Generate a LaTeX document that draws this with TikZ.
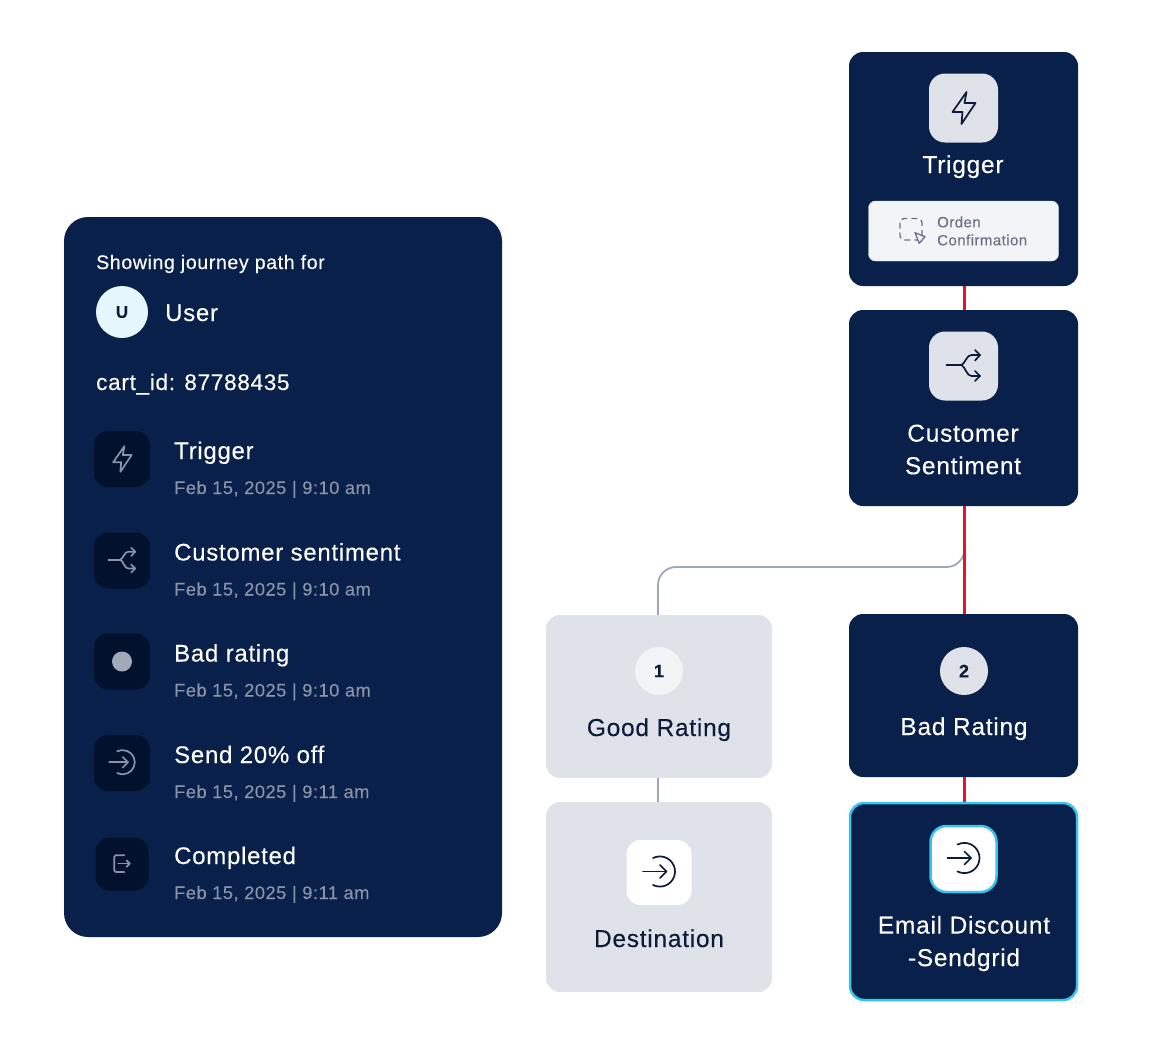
\documentclass[tikz,border=0pt]{standalone}
\usepackage{tikz,fontspec}
\setmainfont[LetterSpace=3,FakeBold=0.2]{Liberation Sans}
\definecolor{navy}{HTML}{08204A}
\definecolor{inkdark}{HTML}{0B1B38}
\definecolor{wellblue}{HTML}{03122C}
\definecolor{paleblue}{HTML}{E6F6FD}
\definecolor{palegray}{HTML}{DFE2E8}
\definecolor{cardgray}{HTML}{F3F4F7}
\definecolor{mutedtext}{HTML}{8B93A8}
\definecolor{cardtext}{HTML}{6B7088}
\definecolor{wiregray}{HTML}{A0A6BA}
\definecolor{wirered}{HTML}{E0162B}
\definecolor{glowcyan}{HTML}{38C4EE}
\tikzset{
  bolt/.pic={\draw[pic actions] (3,-16) -- (-11,4) -- (-1,4) -- (-2,16) -- (12,-5) -- (1,-5) -- cycle;},
  split/.pic={
    \draw[pic actions] (-17,-1) -- (-2,-1);
    \draw[pic actions] (-2,-1) .. controls (2,-3) and (3,-11) .. (8,-11) -- (16.5,-11);
    \draw[pic actions] (-2,-1) .. controls (2,1) and (3,10) .. (8,10) -- (16.5,10);
    \draw[pic actions] (11.5,-16) -- (16.5,-11) -- (11.5,-5.5);
    \draw[pic actions] (11.5,5) -- (16.5,10) -- (11.5,15);
  },
  enter/.pic={
    \draw[pic actions] (-16,-1) -- (7.5,-1);
    \draw[pic actions] (1,-7.5) -- (7.5,-1) -- (1,5.5);
    \draw[pic actions] (-6,-14.5) .. controls (-3.5,-15.6) and (-1.5,-16.1) .. (0.9,-16.1) .. controls (9.2,-16.1) and (16,-9.3) .. (16,-1) .. controls (16,7.3) and (9.2,14.1) .. (0.9,14.1) .. controls (-1.5,14.1) and (-3.5,13.6) .. (-6,12.5);
  },
  leave/.pic={
    \draw[pic actions,rounded corners=1.5] (3,-11) -- (-9.7,-11) -- (-9.7,10) -- (3,10);
    \draw[pic actions] (-4.7,-0.5) -- (9.7,-0.5);
    \draw[pic actions] (5.7,-4.5) -- (9.7,-0.5) -- (5.7,3.5);
  },
  iconline/.style={line width=1.7,line cap=round,line join=round},
  panelicon/.style={iconline,draw=mutedtext,scale=0.8},
  darkicon/.style={iconline,draw=inkdark},
  navybox/.style={fill=navy,rounded corners=14,minimum width=229,inner sep=0},
  graybox/.style={fill=palegray,rounded corners=14,minimum width=226,inner sep=0},
  iconbox/.style={fill=palegray,rounded corners=16,minimum width=69,minimum height=69,inner sep=0},
  well/.style={fill=wellblue,rounded corners=14,minimum width=56,minimum height=56,inner sep=0},
  badge/.style={circle,minimum size=48,inner sep=0,font=\fontsize{18}{20}\selectfont\bfseries,text=inkdark},
  whitehead/.style={text=white,inner sep=0,font=\fontsize{24.5}{32.5}\selectfont,align=center},
  darkhead/.style={text=inkdark,inner sep=0,font=\fontsize{24.5}{32.5}\selectfont,align=center},
  rowtitle/.style={text=white,inner sep=0,anchor=base west,font=\fontsize{24}{28}\selectfont},
  rowdate/.style={text=mutedtext,inner sep=0,anchor=base west,font=\fontsize{18.2}{20}\selectfont},
  redwire/.style={draw=wirered,line width=2.4},
  graywire/.style={draw=wiregray,line width=1.8},
}
\begin{document}
\begin{tikzpicture}[x=1pt,y=-1pt]
  \useasboundingbox (0,0) rectangle (1152,1061);
  % journey panel
  \node[fill=navy,rounded corners=24,minimum width=438,minimum height=720,inner sep=0] (panel) at (283,577) {};
  \node[text=white,inner sep=0,anchor=base west,font=\fontsize{19.6}{22}\selectfont] (showing) at (96,269) {Showing journey path for};
  \node[circle,fill=paleblue,minimum size=52,inner sep=0,text=inkdark,font=\fontsize{17}{20}\selectfont\bfseries] (avatar) at (122,312) {U};
  \node[rowtitle] (user) at (165,321) {User};
  \node[text=white,inner sep=0,anchor=base west,font=\fontsize{22.6}{26}\selectfont] (cart) at (96,390) {cart\_id: 87788435};
  \foreach \i/\y/\s/\name/\when in {1/459/56/Trigger/9:10,2/560.5/56/Customer sentiment/9:10,3/661.5/56/Bad rating/9:10,4/763/56/Send 20\% off/9:11,5/864/53/Completed/9:11} {
    \node[well,minimum size=\s] (well\i) at (122,\y) {};
    \node[rowtitle] (title\i) at (174,\y) {\name};
    \node[rowdate] (date\i) at (174,\y+35) {Feb 15, 2025 | \when{} am};
  }
  \pic[panelicon] at (well1.center) {bolt};
  \pic[panelicon] at (well2.center) {split};
  \fill[mutedtext!80!white] (well3.center) circle(10);
  \pic[panelicon] at (well4.center) {enter};
  \pic[panelicon] at (well5.center) {leave};
  % right column
  \node[navybox,minimum height=234] (trigger) at (963.5,169) {};
  \node[navybox,minimum height=196] (sentiment) at (963.5,408) {};
  \node[navybox,minimum height=163] (badrate) at (963.5,695.5) {};
  \node[navybox,draw=glowcyan,line width=2.5,minimum width=227,minimum height=197] (email) at (963.5,901.5) {};
  % left column
  \node[graybox,minimum height=163] (goodrate) at (659,696.5) {};
  \node[graybox,minimum height=190] (dest) at (659,897) {};
  % wires
  \coordinate (elbowr) at (964.5,567);
  \coordinate (elbowl) at (658,567);
  \draw[graywire,rounded corners=18] (sentiment.south -| elbowr) -- (elbowr) -- (elbowl) -- (goodrate.north -| elbowl);
  \draw[graywire] (goodrate.south -| elbowl) -- (dest.north -| elbowl);
  \draw[redwire] (trigger.south -| elbowr) -- (sentiment.north -| elbowr);
  \draw[redwire] (sentiment.south -| elbowr) -- (badrate.north -| elbowr);
  \draw[redwire] (badrate.south -| elbowr) -- (email.north -| elbowr);
  % box contents
  \node[iconbox] (trigicon) at (963.5,108) {};
  \pic[darkicon] at (trigicon.center) {bolt};
  \node[whitehead,anchor=base] (trigtext) at (963,173) {Trigger};
  \node[fill=cardgray,draw=palegray,rounded corners=7,minimum width=190,minimum height=60,inner sep=0] (ordercard) at (963.5,231) {};
  \draw[cardtext,line width=1.3,dash pattern=on 6 off 4,rounded corners=4] (900,218.5) rectangle (922,240);
  \draw[cardtext,line width=1.3,fill=cardgray,line join=round] (915,232.7) -- (925,236.7) -- (919.3,243.3) -- cycle;
  \node[text=cardtext,inner sep=0,align=left,anchor=west,font=\fontsize{15}{18}\selectfont] (ordertext) at (937,231) {Orden\\Confirmation};
  \node[iconbox] (senticon) at (963.5,366) {};
  \pic[darkicon] at (senticon.center) {split};
  \node[whitehead] (senttext) at (963,449.5) {Customer\\Sentiment};
  \node[badge,fill=cardgray] (num1) at (659,671) {1};
  \node[darkhead,anchor=base] (goodtext) at (659,736) {Good Rating};
  \node[badge,fill=palegray] (num2) at (964,671) {2};
  \node[whitehead,anchor=base] (badtext) at (964,735) {Bad Rating};
  \node[fill=white,rounded corners=14,minimum size=65,inner sep=0] (desticon) at (659,872.5) {};
  \pic[darkicon] at (desticon.center) {enter};
  \node[darkhead,anchor=base] (desttext) at (659,947) {Destination};
  \node[fill=white,draw=glowcyan,line width=2.5,rounded corners=16,minimum size=66,inner sep=0] (emailicon) at (963.5,859) {};
  \pic[darkicon] at (emailicon.center) {enter};
  \node[whitehead] (emailtext) at (964,943.5) {Email Discount\\-Sendgrid};
\end{tikzpicture}
\end{document}
